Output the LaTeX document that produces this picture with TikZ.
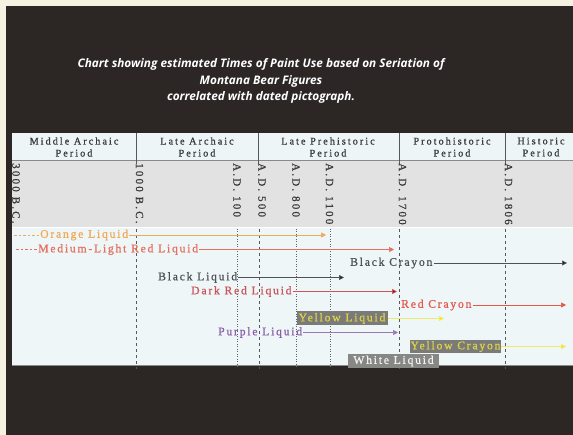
\documentclass[tikz,border=0pt]{standalone}
\usepackage{fontspec}
\newfontfamily\titlefont{Open Sans}
\newfontfamily\lblfont[LetterSpace=15,FakeBold=0.8]{Liberation Serif}
\newfontfamily\hdrfont[LetterSpace=20,FakeBold=0.8]{Liberation Serif}
\usetikzlibrary{arrows.meta}
\definecolor{cream}{HTML}{F6F2E2}
\definecolor{bg}{HTML}{2C2625}
\definecolor{hdr}{HTML}{EEF5F7}
\definecolor{datebg}{HTML}{E2E2E2}
\definecolor{body}{HTML}{EEF6F8}
\definecolor{rule}{HTML}{8A8A8A}
\definecolor{ink}{HTML}{3A3A3A}
\definecolor{orangec}{HTML}{F2A956}
\definecolor{mlred}{HTML}{E4705F}
\definecolor{blackc}{HTML}{4E5258}
\definecolor{darkred}{HTML}{C9545A}
\definecolor{redc}{HTML}{E5584E}
\definecolor{yellowt}{HTML}{DCD24A}
\definecolor{yellowl}{HTML}{EEEA6E}
\definecolor{purplec}{HTML}{8A60A8}
\definecolor{boxgray}{HTML}{7A7A78}
\definecolor{whitet}{HTML}{F2F2F2}
\tikzset{
  lbl/.style={font=\lblfont\fontsize{11.7}{13}\selectfont, anchor=west, inner xsep=1pt, inner ysep=0pt},
  hdrtxt/.style={font=\hdrfont\fontsize{10.2}{12}\selectfont, text=ink, align=center},
  datetxt/.style={font=\hdrfont\fontsize{11}{12}\selectfont, text=ink, rotate=-90, anchor=west, inner sep=0pt},
  tagbox/.style={font=\lblfont\fontsize{11.7}{13}\selectfont, fill=boxgray, inner sep=0pt, minimum width=91pt, minimum height=14pt},
  arr/.style={line width=0.7pt, -{Triangle[length=5pt,width=5pt]}},
  plain/.style={line width=0.7pt},
  dashv/.style={draw=ink!85, line width=0.7pt, dash pattern=on 3pt off 3pt},
  dotv/.style={draw=ink!80, line width=0.6pt, dash pattern=on 1pt off 1.5pt},
  divider/.style={draw=ink!85, line width=0.6pt}
}
\begin{document}
\begin{tikzpicture}[x=1pt,y=-1pt]
\fill[cream] (0,0) rectangle (573,435);
\useasboundingbox (0,0) rectangle (573,435);
\fill[bg] (6,6) rectangle (573,435);

% title
\node[font=\titlefont\bfseries\itshape\fontsize{11.8}{16.5}\selectfont, text=white, align=center] (title) at (261,81)
  {Chart showing estimated Times of Paint Use based on Seriation of\\Montana Bear Figures\\correlated with dated pictograph.};

% table bands
\fill[hdr] (12,133) rectangle (573,160);
\fill[datebg] (12,160) rectangle (573,228);
\fill[body] (12,228) rectangle (573,366);
\draw[rule, line width=0.8pt] (12,160) -- (573,160);
\draw[white, line width=1pt] (12,228) -- (573,228);
\draw[rule, line width=1pt] (12,366) -- (573,366);

% header dividers
\foreach \x in {136,258,399,505} \draw[divider] (\x,133) -- (\x,164);

% header texts
\node[hdrtxt] (p1) at (74,147) {Middle Archaic\\Period};
\node[hdrtxt] (p2) at (197,147) {Late Archaic\\Period};
\node[hdrtxt] (p3) at (328,147) {Late Prehistoric\\Period};
\node[hdrtxt] (p4) at (452,147) {Protohistoric\\Period};
\node[hdrtxt] (p5) at (541,147) {Historic\\Period};

% date labels
\node[datetxt] (d1) at (16,163) {3000 B.C.};
\node[datetxt] (d2) at (139.5,163) {1000 B.C.};
\node[datetxt] (d3) at (237,163) {A.D. 100};
\node[datetxt] (d4) at (262,163) {A.D. 500};
\node[datetxt] (d5) at (296,163) {A.D. 800};
\node[datetxt] (d6) at (329.5,163) {A.D. 1100};
\node[datetxt] (d7) at (402.5,163) {A.D. 1700};
\node[datetxt] (d8) at (508.5,163) {A.D. 1806};

% vertical guide lines
\draw[dashv] (136,229) -- (136,369);
\draw[dotv] (237,229) -- (237,369);
\draw[dashv] (259,229) -- (259,369);
\draw[dotv] (296,229) -- (296,369);
\draw[dotv] (330,229) -- (330,369);
\draw[dashv] (399,229) -- (399,369);
\draw[dashv] (505,229) -- (505,369);

% Orange Liquid
\node[lbl, text=orangec] (orange) at (39,235) {Orange Liquid};
\coordinate (orange0) at (14,235);
\coordinate (orange1) at (326,235);
\draw[orangec, plain, dash pattern=on 2.5pt off 2pt] (orange0) -- (orange.west);
\draw[orangec, arr] (orange.east) -- (orange1);

% Medium-Light Red Liquid
\node[lbl, text=mlred] (mlr) at (37,249.5) {Medium-Light Red Liquid};
\coordinate (mlr0) at (16,249.5);
\coordinate (mlr1) at (394,249.5);
\draw[mlred, plain, dash pattern=on 2.5pt off 2pt] (mlr0) -- (mlr.west);
\draw[mlred, arr] (mlr.east) -- (mlr1);

% Black Crayon
\node[lbl, text=blackc] (bcr) at (349,263) {Black Crayon};
\coordinate (bcr1) at (567,263);
\draw[blackc, arr, -{Triangle[length=5pt,width=5pt,fill=black!85]}] (bcr.east) -- (bcr1);

% Black Liquid
\node[lbl, text=blackc] (bl) at (157,277.5) {Black Liquid};
\coordinate (bl1) at (344,277.5);
\draw[blackc, arr, -{Triangle[length=5pt,width=5pt,fill=black!85]}] (bl.east) -- (bl1);

% Dark Red Liquid
\node[lbl, text=darkred] (drl) at (190,291.5) {Dark Red Liquid};
\coordinate (drl1) at (397,291.5);
\draw[darkred, arr, -{Triangle[length=5pt,width=5pt,fill=red!70!black]}] (drl.east) -- (drl1);

% Red Crayon
\node[lbl, text=redc] (rcr) at (400,305) {Red Crayon};
\coordinate (rcr1) at (566,305);
\draw[redc, arr] (rcr.east) -- (rcr1);

% Yellow Liquid
\node[tagbox, text=yellowt] (yl) at (342,318.5) {Yellow Liquid};
\coordinate (yl1) at (444,318.5);
\draw[yellowl, arr, -{Triangle[length=5pt,width=5pt,fill=yellow!90!orange]}] (yl.east) -- (yl1);

% Purple Liquid
\node[lbl, text=purplec] (pl) at (217,332.5) {Purple Liquid};
\coordinate (pl1) at (398,332.5);
\draw[purplec!85, arr] (pl.east) -- (pl1);

% Yellow Crayon
\node[tagbox, text=yellowt, minimum height=13pt] (ycr) at (455.5,346.5) {Yellow Crayon};
\coordinate (ycr1) at (566,346.5);
\draw[yellowl, arr, -{Triangle[length=5pt,width=5pt,fill=yellow!90!orange]}] (ycr.east) -- (ycr1);

% White Liquid
\node[tagbox, text=whitet, fill=boxgray!90!white] (wl) at (393.5,361) {White Liquid};
\end{tikzpicture}
\end{document}
